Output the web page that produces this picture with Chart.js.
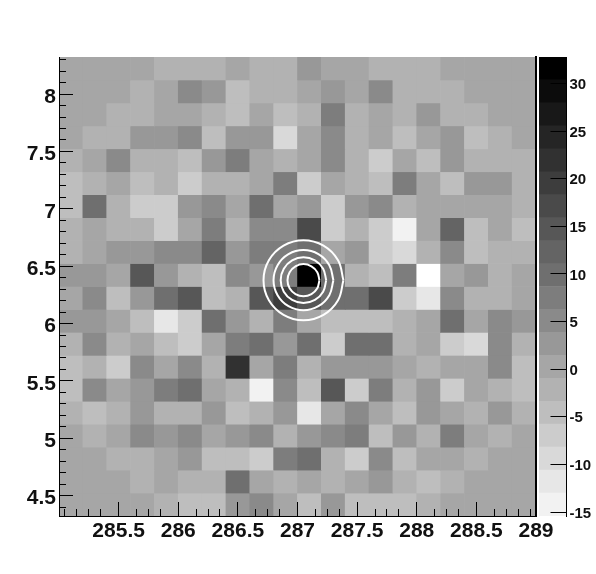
<!DOCTYPE html>
<html><head><meta charset="utf-8">
<script src="https://cdn.jsdelivr.net/npm/chart.js@4/dist/chart.umd.js"></script>
<style>html,body{margin:0;padding:0;background:#fff;width:596px;height:574px;overflow:hidden}
canvas{position:absolute;left:0;top:0}</style></head><body>
<canvas id="map" width="596" height="574"></canvas>
<canvas id="bar" width="596" height="574"></canvas>
<script>
// Column centres and row lower edges (data units)
const xCenters = [285.1,285.3,285.5,285.7,285.9,286.1,286.3,286.5,286.7,286.9,287.1,287.3,287.5,287.7,287.9,288.1,288.3,288.5,288.7,288.9];
const rowLows = [8.123,7.923,7.723,7.523,7.323,7.123,6.923,6.723,6.523,6.323,6.123,5.923,5.723,5.523,5.323,5.123,4.923,4.723,4.523,4.323];
const rowHeight = 0.2;
// Cell values, top row first
const row0 = [0,0,0,0,-2,-2,-2,0,-2,-2,3,0,0,-2,-2,-2,0,0,0,0];
const row1 = [0,0,0,-2,0,5,3,-5,-2,-2,0,3,0,5,-2,-2,-2,0,0,0];
const row2 = [0,0,-2,-2,0,0,-2,-5,0,-5,-2,7,-2,0,-2,3,-2,-2,0,0];
const row3 = [0,-2,-2,3,3,5,-5,3,3,-9,0,5,-2,0,-5,0,3,-5,-2,0];
const row4 = [-2,0,5,-2,-2,-5,3,7,0,-2,0,5,-2,-7,0,-5,3,-2,-2,-2];
const row5 = [-5,-2,0,-5,-2,-7,-2,-2,0,7,-7,0,-2,-5,7,0,-5,3,3,-2];
const row6 = [-5,10,-2,-7,-7,3,5,0,10,0,3,-7,3,5,-2,0,0,0,0,-2];
const row7 = [-2,0,-2,-2,-7,0,7,-2,5,5,17,-7,-2,-7,-14,0,12,-5,0,-5];
const row8 = [-2,0,3,3,5,5,12,3,7,7,10,0,3,-7,-9,-2,5,-5,-2,-2];
const row9 = [3,3,0,15,3,-2,-5,5,3,7,32,10,-2,-5,7,-16,0,3,-2,0];
const row10 = [0,5,-5,3,10,15,-5,-2,15,20,15,10,10,17,-7,-12,5,-2,-2,0];
const row11 = [3,3,0,-5,-12,-7,10,3,-2,7,0,-5,-5,-5,-2,0,10,0,5,3];
const row12 = [-2,5,-2,0,-5,-7,0,7,10,3,10,-7,10,10,-2,0,-7,-9,5,-2];
const row13 = [-5,-2,-7,5,0,5,-2,22,0,7,-2,3,3,3,0,-2,0,0,5,-5];
const row14 = [-5,5,0,3,7,10,0,-2,-14,5,-5,15,-7,7,-2,3,-7,0,-2,-5];
const row15 = [-2,-5,-2,3,-2,-2,3,-5,-2,3,-12,0,5,0,-5,3,0,-2,3,-2];
const row16 = [0,-2,0,5,3,5,0,3,5,-2,3,5,7,-5,3,-2,7,0,-2,0];
const row17 = [0,0,-2,-2,0,3,-5,-5,-7,7,10,-2,-7,5,-5,0,0,-2,0,0];
const row18 = [0,0,0,-2,0,-2,-2,10,0,-2,0,-2,0,3,-2,-5,-2,0,0,0];
const row19 = [0,0,0,0,-2,-5,-5,3,5,0,-5,3,-5,-5,-5,-2,0,0,0,0];
const rows = [row0,row1,row2,row3,row4,row5,row6,row7,row8,row9,row10,row11,row12,row13,row14,row15,row16,row17,row18,row19];
// Colour scale: band edges and greys, lowest band first
const bandEdges = [-15.42,-13.01,-10.6,-8.19,-5.78,-3.37,-0.96,1.45,3.86,6.27,8.68,11.09,13.5,15.91,18.32,20.73,23.14,25.55,27.96,30.37,32.78];
const bandGreys = ['#f2f2f2','#e7e7e7','#d9d9d9','#cccccc','#bebebe','#b2b2b2','#a6a6a6','#989898','#8a8a8a','#7d7d7d','#6f6f6f','#646464','#575757','#4a4a4a','#3d3d3d','#313131','#252525','#181818','#0c0c0c','#000000'];
const underflowGrey = '#ffffff';
// Contours
const contour1X = [287.385,287.34,287.218,287.05,286.883,286.76,286.715,286.76,286.883,287.05,287.218,287.34,287.385];
const contour1Y = [6.378,6.5525,6.68,6.727,6.68,6.5525,6.378,6.2035,6.076,6.029,6.076,6.2035,6.378];
const contour2X = [287.301,287.267,287.1755,287.05,286.9245,286.833,286.799,286.833,286.9245,287.05,287.1755,287.267,287.301];
const contour2Y = [6.378,6.509,6.605,6.64,6.605,6.509,6.378,6.247,6.151,6.116,6.151,6.247,6.378];
const contour3X = [287.241,287.215,287.146,287.05,286.955,286.885,286.859,286.885,286.955,287.05,287.146,287.215,287.241];
const contour3Y = [6.378,6.478,6.55,6.577,6.55,6.478,6.378,6.278,6.206,6.179,6.206,6.278,6.378];
const contour4X = [287.184,287.166,287.117,287.05,286.983,286.934,286.916,286.934,286.983,287.05,287.117,287.166,287.184];
const contour4Y = [6.378,6.448,6.499,6.518,6.499,6.448,6.378,6.308,6.257,6.238,6.257,6.308,6.378];
const contours = [[contour1X,contour1Y],[contour2X,contour2Y],[contour3X,contour3Y],[contour4X,contour4Y]];
// Axes
const xRange = [285, 289];
const yRange = [4.323, 8.323];
const xMajor = [285.5,286,286.5,287,287.5,288,288.5,289];
const yMajor = [4.5,5,5.5,6,6.5,7,7.5,8];
const xMinor = [285.1,285.2,285.3,285.4,285.6,285.7,285.8,285.9,286.1,286.2,286.3,286.4,286.6,286.7,286.8,286.9,287.1,287.2,287.3,287.4,287.6,287.7,287.8,287.9,288.1,288.2,288.3,288.4,288.6,288.7,288.8,288.9];
const yMinor = [4.4,4.6,4.7,4.8,4.9,5.1,5.2,5.3,5.4,5.6,5.7,5.8,5.9,6.1,6.2,6.3,6.4,6.6,6.7,6.8,6.9,7.1,7.2,7.3,7.4,7.6,7.7,7.8,7.9,8.1,8.2,8.3];
const barTicks = [-15,-10,-5,0,5,10,15,20,25,30];

function greyFor(v){
  if (v < bandEdges[0]) return underflowGrey;
  for (let i = 0; i < bandGreys.length; i++) if (v < bandEdges[i+1]) return bandGreys[i];
  return bandGreys[bandGreys.length-1];
}
const setTicks = list => s => { s.ticks = list.map(value => ({value})); };
const ink = '#000';
Chart.defaults.font.family = '"Liberation Sans", Arial, sans-serif';
Chart.defaults.font.weight = 'bold';
Chart.defaults.color = '#111';

const cellSets = rows.map((vals, r) => ({
  type: 'bar',
  data: vals.map((v, c) => ({x: xCenters[c], y: [rowLows[r], rowLows[r] + rowHeight]})),
  backgroundColor: vals.map(greyFor),
  borderWidth: 0, barPercentage: 1, categoryPercentage: 1, grouped: false, order: 2
}));
const lineSets = contours.map(([xs, ys]) => ({
  type: 'line',
  data: xs.map((x, i) => ({x, y: ys[i]})),
  borderColor: '#fff', borderWidth: 2, pointRadius: 0, tension: 0.4, fill: false, order: 1
}));

new Chart(document.getElementById('map'), {
  type: 'bar',
  data: {datasets: [...lineSets, ...cellSets]},
  options: {
    responsive: false, animation: false, events: [],
    layout: {padding: {left: 0, top: 57, right: 60, bottom: 0}},
    plugins: {legend: {display: false}, tooltip: {enabled: false}},
    scales: {
      x: {type: 'linear', position: 'bottom', weight: 1, min: xRange[0], max: xRange[1], offset: false,
        afterBuildTicks: setTicks(xMajor), afterFit: s => { s.height = 58; },
        grid: {display: true, z: 1, drawOnChartArea: false, drawTicks: true, tickLength: -14, tickColor: ink, tickWidth: 1, offset: false},
        border: {display: true, z: 2, color: ink, width: 1},
        ticks: {autoSkip: false, maxRotation: 0, padding: 17, font: {size: 21, weight: 'bold'}, callback: v => String(v)}},
      xm: {type: 'linear', axis: 'x', position: 'bottom', weight: 0, min: xRange[0], max: xRange[1], offset: false,
        afterBuildTicks: setTicks(xMinor), afterFit: s => { s.height = 0; },
        grid: {display: true, z: 1, drawOnChartArea: false, drawTicks: true, tickLength: -7, tickColor: ink, tickWidth: 1},
        border: {display: false, z: 2}, ticks: {display: false, autoSkip: false}},
      y: {type: 'linear', position: 'left', weight: 1, min: yRange[0], max: yRange[1],
        afterBuildTicks: setTicks(yMajor), afterFit: s => { s.width = 59; },
        grid: {display: true, z: 1, drawOnChartArea: false, drawTicks: true, tickLength: -14, tickColor: ink, tickWidth: 1},
        border: {display: true, z: 2, color: ink, width: 1},
        ticks: {autoSkip: false, padding: 17, labelOffset: 3, font: {size: 21, weight: 'bold'}, callback: v => String(v)}},
      ym: {type: 'linear', axis: 'y', position: 'left', weight: 0, min: yRange[0], max: yRange[1],
        afterBuildTicks: setTicks(yMinor), afterFit: s => { s.width = 0; },
        grid: {display: true, z: 1, drawOnChartArea: false, drawTicks: true, tickLength: -7, tickColor: ink, tickWidth: 1},
        border: {display: false, z: 2}, ticks: {display: false, autoSkip: false}},
      yr: {type: 'linear', axis: 'y', position: 'right', min: yRange[0], max: yRange[1],
        afterFit: s => { s.width = 0; },
        grid: {display: false}, border: {display: true, z: 2, color: ink, width: 2}, ticks: {display: false}}
    }
  }
});

new Chart(document.getElementById('bar'), {
  type: 'bar',
  data: {
    labels: ['scale'],
    datasets: bandGreys.map((g, i) => ({
      data: [[bandEdges[i], bandEdges[i+1]]], backgroundColor: g,
      borderWidth: 0, barPercentage: 1, categoryPercentage: 1, grouped: false
    }))
  },
  options: {
    responsive: false, animation: false, events: [],
    layout: {padding: {left: 539, top: 57, right: 0, bottom: 58}},
    plugins: {legend: {display: false}, tooltip: {enabled: false}},
    scales: {
      x: {display: false},
      y: {position: 'right', min: bandEdges[0], max: bandEdges[bandEdges.length-1],
        afterBuildTicks: setTicks(barTicks), afterFit: s => { s.width = 29.5; },
        grid: {display: true, z: 1, drawOnChartArea: false, drawTicks: true, tickLength: -16, tickColor: ink, tickWidth: 1},
        border: {display: true, z: 2, color: ink, width: 1},
        ticks: {autoSkip: false, padding: 19, labelOffset: 1.5, font: {size: 15, weight: 'bold'}, callback: v => String(v)}}
    }
  }
});
</script></body></html>
